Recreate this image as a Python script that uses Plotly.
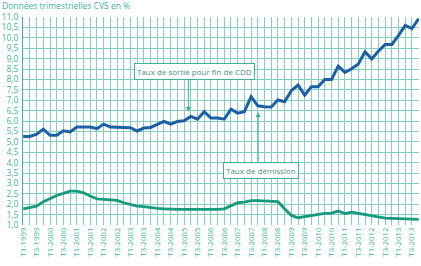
import plotly.graph_objects as go

years = list(range(1999, 2014))
quarters = [f"T{q}-{y}" for y in years for q in (1, 2, 3, 4)]

sortie_cdd = [5.26, 5.26, 5.37, 5.61, 5.31, 5.31, 5.53, 5.47, 5.71, 5.71,
              5.71, 5.63, 5.85, 5.71, 5.71, 5.71, 5.68, 5.52, 5.66, 5.69,
              5.82, 5.98, 5.85, 5.98, 6.01, 6.22, 6.09, 6.45, 6.14, 6.14,
              6.09, 6.57, 6.38, 6.45, 7.17, 6.73, 6.69, 6.67, 7.01, 6.93,
              7.46, 7.73, 7.24, 7.65, 7.65, 8.00, 8.00, 8.64, 8.34, 8.51,
              8.74, 9.33, 8.98, 9.36, 9.68, 9.68, 10.12, 10.60, 10.44, 10.92]

demission = [1.78, 1.83, 1.91, 2.12, 2.26, 2.42, 2.52, 2.63, 2.63, 2.55,
             2.39, 2.26, 2.23, 2.20, 2.18, 2.07, 1.99, 1.91, 1.88, 1.83,
             1.80, 1.78, 1.75, 1.75, 1.75, 1.75, 1.74, 1.74, 1.74, 1.75,
             1.78, 1.91, 2.07, 2.10, 2.17, 2.17, 2.16, 2.15, 2.12, 1.78,
             1.46, 1.35, 1.40, 1.46, 1.53, 1.56, 1.57, 1.67, 1.55, 1.62,
             1.56, 1.50, 1.43, 1.38, 1.33, 1.32, 1.31, 1.29, 1.27, 1.27]

tick_text = [q if i % 2 == 0 else "" for i, q in enumerate(quarters)]
y_ticks = [1.0 + 0.5 * k for k in range(21)]

TEAL = "#3fb39a"
GRID = "#84cfbf"
BLUE = "#1d5fa6"
GREEN = "#17997e"
FONT = "Open Sans"

fig = go.Figure()
fig.add_trace(go.Scatter(x=quarters, y=sortie_cdd, mode="lines",
                         line=dict(color=BLUE, width=3), showlegend=False,
                         hoverinfo="skip"))
fig.add_trace(go.Scatter(x=quarters, y=demission, mode="lines",
                         line=dict(color=GREEN, width=2.8), showlegend=False,
                         hoverinfo="skip"))

fig.update_layout(
    width=421, height=266,
    margin=dict(l=23, r=2, t=17, b=41),
    paper_bgcolor="white", plot_bgcolor="white",
    separators=", ",
    font=dict(family=FONT, color=TEAL, size=8),
    xaxis=dict(type="category", categoryorder="array", categoryarray=quarters,
               tickmode="array", tickvals=quarters, ticktext=tick_text,
               tickangle=-90, range=[-0.03, 59.05],
               showgrid=True, gridcolor=GRID, gridwidth=1,
               showline=False, ticks="", zeroline=False, ticklabelstandoff=0,
               automargin=False,
               tickfont=dict(size=7.8, color=TEAL, family=FONT)),
    yaxis=dict(range=[1.0, 11.0], tickmode="array", tickvals=y_ticks,
               tickformat=".1f", showgrid=True, gridcolor=GRID, gridwidth=1,
               showline=True, linecolor=TEAL, linewidth=1, ticks="",
               zeroline=False, ticklabelstandoff=2, automargin=False,
               tickfont=dict(size=8.5, color=TEAL, family=FONT)),
    annotations=[
        dict(text="Données trimestrielles CVS en %", xref="paper", yref="paper",
             x=-23/396, y=1.0 + 11/208, xanchor="left", yanchor="middle",
             showarrow=False, font=dict(size=8.5, color=TEAL, family=FONT)),
        dict(text="Taux de sortie pour fin de CDD", xref="x", yref="y",
             x=25.5, y=8.37, showarrow=False,
             bordercolor=TEAL, borderwidth=1, borderpad=2, bgcolor="white",
             font=dict(size=8, color="#4f8f82", family=FONT)),
        dict(text="", xref="x", yref="y", x=24.65, y=6.43,
             ax=24.65, ay=8.05, axref="x", ayref="y",
             showarrow=True, arrowhead=2, arrowsize=1, arrowwidth=1,
             arrowcolor=TEAL),
        dict(text="Taux de démission", xref="x", yref="y",
             x=35.45, y=3.64, showarrow=False,
             bordercolor=TEAL, borderwidth=1, borderpad=2, bgcolor="white",
             font=dict(size=8, color="#4f8f82", family=FONT)),
        dict(text="", xref="x", yref="y", x=35.05, y=6.43,
             ax=35.05, ay=3.99, axref="x", ayref="y",
             showarrow=True, arrowhead=2, arrowsize=1, arrowwidth=1,
             arrowcolor=TEAL),
    ],
)

fig.write_html("out.html")
